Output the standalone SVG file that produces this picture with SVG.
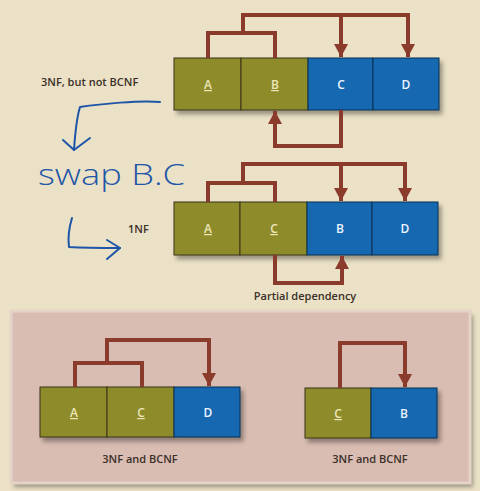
<svg xmlns="http://www.w3.org/2000/svg" width="480" height="491" viewBox="0 0 480 491">
<defs>
<marker id="ah" markerUnits="userSpaceOnUse" markerWidth="14" markerHeight="14" refX="12" refY="6.5" orient="auto" viewBox="0 0 13 13">
<path d="M0 0 L12 6.5 L0 13 Z" fill="#8a3b2c"/>
</marker>
<filter id="sh" x="-10%" y="-10%" width="130%" height="140%">
<feDropShadow dx="3" dy="4" stdDeviation="2" flood-color="#000" flood-opacity="0.35"/>
</filter>
</defs>
<style>
.ol{fill:#8e8b2c;stroke:#3b3418;stroke-width:1}
.bl{fill:#1468b0;stroke:#0d3050;stroke-width:1}
.lo{font-family:"Open Sans","Lato",sans-serif;font-weight:600;font-size:12px;fill:#ece6b8;text-anchor:middle}
.lb{font-family:"Open Sans","Lato",sans-serif;font-weight:600;font-size:12px;fill:#eef4ff;text-anchor:middle}
.u{text-decoration:underline}
.cap{font-family:"Open Sans","Lato",sans-serif;font-weight:600;font-size:11px;fill:#3a3028}
.con{fill:none;stroke:#8a3b2c;stroke-width:4}
.hw{fill:none;stroke:#1f55a8;stroke-width:2;stroke-linecap:round;stroke-linejoin:round}
</style>
<rect x="0" y="0" width="480" height="491" fill="#ebe1c6"/>
<g id="panel">
<rect x="11" y="311" width="459" height="172" fill="#b8a596" filter="url(#sh)"/>
<rect x="11" y="311" width="459" height="172" fill="#d9bcb2" stroke="#e6d3c8" stroke-width="3"/>
</g>
<g id="label-top"><text class="cap" x="41" y="86">3NF, but not BCNF</text></g>
<g id="table1" filter="url(#sh)">
<rect class="ol" x="174" y="58" width="67" height="52"/>
<rect class="ol" x="241" y="58" width="67" height="52"/>
<rect class="bl" x="308" y="58" width="65" height="52"/>
<rect class="bl" x="373" y="58" width="66" height="52"/>
</g>
<g id="table1-labels">
<text class="lo u" x="208" y="89">A</text>
<text class="lo u" x="275" y="89">B</text>
<text class="lb" x="341" y="89">C</text>
<text class="lb" x="406" y="89">D</text>
</g>
<g id="label-1nf"><text class="cap" x="128" y="233">1NF</text></g>
<g id="table2" filter="url(#sh)">
<rect class="ol" x="174" y="202" width="66" height="53"/>
<rect class="ol" x="240" y="202" width="67" height="53"/>
<rect class="bl" x="307" y="202" width="65" height="53"/>
<rect class="bl" x="372" y="202" width="66" height="53"/>
</g>
<g id="table2-labels">
<text class="lo u" x="208" y="233">A</text>
<text class="lo u" x="274" y="233">C</text>
<text class="lb" x="340" y="233">B</text>
<text class="lb" x="405" y="233">D</text>
</g>
<g id="label-partial"><text class="cap" x="305" y="300" text-anchor="middle">Partial dependency</text></g>
<g id="table3" filter="url(#sh)">
<rect class="ol" x="40" y="387" width="67" height="50"/>
<rect class="ol" x="107" y="387" width="67" height="50"/>
<rect class="bl" x="174" y="387" width="66" height="50"/>
</g>
<g id="table3-labels">
<text class="lo u" x="74" y="417">A</text>
<text class="lo u" x="141" y="417">C</text>
<text class="lb" x="208" y="417">D</text>
</g>
<g id="table4" filter="url(#sh)">
<rect class="ol" x="305" y="388" width="66" height="50"/>
<rect class="bl" x="371" y="388" width="66" height="50"/>
</g>
<g id="table4-labels">
<text class="lo u" x="338" y="418">C</text>
<text class="lb" x="404" y="418">B</text>
</g>
<g id="labels-bcnf">
<text class="cap" x="140" y="463" text-anchor="middle">3NF and BCNF</text>
<text class="cap" x="370" y="463" text-anchor="middle">3NF and BCNF</text>
</g>
<g id="connectors">
<path class="con" d="M208 58 V33 H275 V58"/>
<path class="con" d="M243 33 V15 H408 V57" marker-end="url(#ah)"/>
<path class="con" d="M341 15 V57" marker-end="url(#ah)"/>
<path class="con" d="M341 110 V146 H275 V111" marker-end="url(#ah)"/>
<path class="con" d="M208 202 V183 H275 V202"/>
<path class="con" d="M243 183 V164 H405 V201" marker-end="url(#ah)"/>
<path class="con" d="M341 164 V201" marker-end="url(#ah)"/>
<path class="con" d="M275 255 V283 H342 V256" marker-end="url(#ah)"/>
<path class="con" d="M75 387 V363 H142 V387"/>
<path class="con" d="M107 363 V340 H209 V386" marker-end="url(#ah)"/>
<path class="con" d="M340 388 V343 H405 V387" marker-end="url(#ah)"/>
</g>
<g id="handwriting">
<path class="hw" d="M160 102 C140 100 100 104 80 107 C76 120 75 135 74 150"/>
<path class="hw" d="M63 140 L74 150 L90 138"/>
<path class="hw" d="M72 218 C69 228 68 240 69 247 C85 248 105 248 120 248"/>
<path class="hw" d="M107 240 L120 248 L107 259"/>
<text x="38" y="185" font-family="Open Sans, sans-serif" font-weight="300" font-size="30" fill="#1f55a8" textLength="147" lengthAdjust="spacingAndGlyphs">swap B.C</text>
</g>
</svg>
